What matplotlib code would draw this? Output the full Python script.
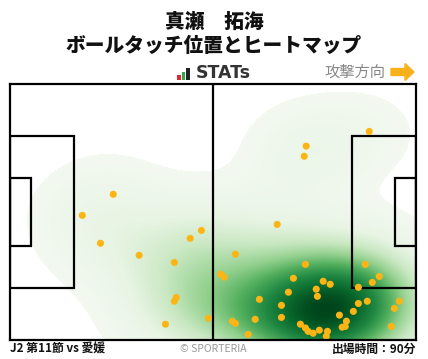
import numpy as np
import matplotlib

matplotlib.use("Agg")
import matplotlib.pyplot as plt
from matplotlib.colors import LinearSegmentedColormap
from matplotlib.patches import Rectangle, FancyArrow

# ===================== Data =====================
title_name = "真瀬　拓海"
title_sub = "ボールタッチ位置とヒートマップ"
match_label = "J2 第11節 vs 愛媛"
minutes_label = "出場時間：90分"

# touch positions in metres (x: own goal -> attack, y: bottom -> top)
touch_x = [26.7, 18.7, 23.4, 33.4, 42.5, 46.6, 49.5, 43.0, 42.5, 40.2,
           51.3, 54.5, 55.4, 58.3, 69.1, 76.4, 73.3, 81.0, 82.8, 79.2,
           79.5, 72.0, 64.5, 70.2, 70.2, 63.4, 57.5, 58.3, 61.6, 75.1,
           76.4, 77.1, 78.4, 80.0, 82.1, 81.8, 85.2, 87.0, 85.9, 86.7,
           88.8, 90.1, 92.4, 90.1, 91.9, 93.7, 95.5, 100.7, 99.4, 98.6,
           76.6, 76.1, 92.9]
touch_y = [38.7, 33.1, 25.7, 22.5, 20.6, 27.0, 29.1, 11.3, 10.3, 4.2,
           5.8, 17.5, 16.7, 22.8, 30.7, 20.1, 16.4, 15.6, 14.8, 13.5,
           11.6, 12.7, 10.8, 9.2, 6.0, 5.5, 5.0, 4.4, 1.5, 4.2,
           3.2, 2.3, 1.8, 2.6, 2.3, 1.0, 6.6, 5.0, 3.4, 3.6,
           7.6, 9.7, 10.3, 14.0, 20.1, 15.3, 16.9, 10.3, 8.4, 3.6,
           51.5, 48.8, 55.4]

L, W = 105.0, 68.0

plt.rcParams["font.family"] = ["Noto Sans CJK JP", "DejaVu Sans"]

fig = plt.figure(figsize=(4.28, 3.59), dpi=100)
fig.patch.set_facecolor("white")

# ===================== Pitch axes =====================
ax = fig.add_axes([10 / 428, 19 / 359, 406 / 428, 256 / 359])
ax.set_xlim(0, L)
ax.set_ylim(0, W)
ax.set_xticks([])
ax.set_yticks([])
for sp in ax.spines.values():
    sp.set_linewidth(1.6)
    sp.set_color("black")
    sp.set_zorder(4)

# heatmap (gaussian kde of touches)
tx = np.array(touch_x)
ty = np.array(touch_y)
gx, gy = np.meshgrid(np.linspace(0, L, 406), np.linspace(0, W, 256))
sx, sy = 11.0, 9.0
dens = np.zeros_like(gx)
for px, py in zip(tx, ty):
    dens += np.exp(-((gx - px) ** 2 / (2 * sx ** 2) + (gy - py) ** 2 / (2 * sy ** 2)))
dens /= dens.max()
thr = 0.035
dens = np.where(dens < thr, np.nan, dens)

heat_cmap = LinearSegmentedColormap.from_list(
    "heat", ["#f3f9f1", "#e8f4e4", "#c9e8c2", "#95d190", "#52af5d",
             "#238b45", "#0a6b2e", "#00441b"])
heat_cmap.set_bad("white")
ax.imshow(dens, extent=(0, L, 0, W), origin="lower", cmap=heat_cmap,
          vmin=thr, vmax=1, interpolation="nearest", aspect="auto", zorder=1)

# pitch lines
lw = 1.6
ax.plot([L / 2, L / 2], [0, W], color="black", lw=lw, zorder=2)
pen_d, pen_w = 16.5, 40.3
goal_d, goal_w = 5.5, 18.3
for x0, d in [(0, pen_d), (L - pen_d, pen_d)]:
    ax.add_patch(Rectangle((x0, (W - pen_w) / 2), d, pen_w, fill=False,
                           ec="black", lw=lw, zorder=2))
for x0 in [0, L - goal_d]:
    ax.add_patch(Rectangle((x0, (W - goal_w) / 2), goal_d, goal_w, fill=False,
                           ec="black", lw=lw, zorder=2))

ax.scatter(tx, ty, s=26, color="#FDB515", edgecolor="none", zorder=3)

# ===================== Header =====================
fig.text(0.5, 1 - 22 / 359, title_name, ha="center", va="center",
         fontsize=14.2, fontweight="heavy", color="#111111")
fig.text(0.5, 1 - 46 / 359, title_sub, ha="center", va="center",
         fontsize=14.2, fontweight="heavy", color="#111111")

# STATs logo
bar_ax = fig.add_axes([177 / 428, 1 - 80 / 359, 13 / 428, 12 / 359])
bar_ax.bar([0, 1, 2], [0.45, 0.7, 1.0], width=0.8,
           color=["#E5262A", "#2FA84F", "#222222"])
bar_ax.set_xlim(-0.5, 2.5)
bar_ax.set_ylim(0, 1)
bar_ax.axis("off")
fig.text(196 / 428, 1 - 73 / 359, "STATs", ha="left", va="center",
         fontsize=12.5, fontweight="bold", color="#333333",
         family=["DejaVu Sans"])

fig.text(385 / 428, 1 - 72 / 359, "攻撃方向", ha="right", va="center",
         fontsize=11, color="#888888")
fig.patches.append(FancyArrow(391 / 428, 1 - 72 / 359, 14 / 428, 0,
                              width=7 / 359, head_width=17 / 359,
                              head_length=9 / 428, length_includes_head=False,
                              color="#F9B11B", transform=fig.transFigure,
                              figure=fig))

# ===================== Footer =====================
fig.text(10 / 428, 1 - 349 / 359, match_label, ha="left", va="center",
         fontsize=8.5, fontweight="bold", color="#111111")
fig.text(213 / 428, 1 - 349 / 359, "© SPORTERIA", ha="center", va="center",
         fontsize=7.5, color="#999999")
fig.text(416 / 428, 1 - 349 / 359, minutes_label, ha="right", va="center",
         fontsize=8.5, fontweight="bold", color="#111111")

fig.savefig("out.png", dpi=100)
